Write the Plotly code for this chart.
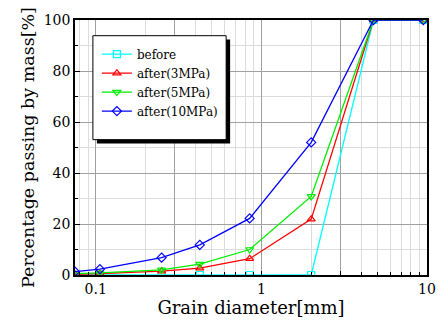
import plotly.graph_objects as go

diam = [0.075, 0.106, 0.25, 0.425, 0.85, 2.0, 4.75, 9.5]
before = [0, 0, 0, 0, 0, 0, 100, 100]
after3 = [0.3, 0.5, 1.5, 2.7, 6.4, 21.9, 100, 100]
after5 = [0.5, 0.8, 2.0, 4.3, 10.0, 30.8, 100, 100]
after10 = [1.3, 2.3, 6.8, 11.8, 22.2, 52.0, 100, 100]

series = [
    ("before", before, "#00ffff", "square-open"),
    ("after(3MPa)", after3, "#ff0000", "triangle-up-open"),
    ("after(5MPa)", after5, "#00ee00", "triangle-down-open"),
    ("after(10MPa)", after10, "#0000ff", "diamond-open"),
]

fig = go.Figure()
for name, vals, col, sym in series:
    fig.add_trace(go.Scatter(
        x=diam, y=vals, name=name, mode="lines+markers",
        line=dict(color=col, width=1.3),
        marker=dict(symbol=sym, size=7, color=col, line=dict(width=1.2, color=col)),
    ))

L, R, T, B = 75, 19, 16, 51
W, H = 448, 327
pw, ph = W - L - R, H - T - B

def px_x(x):
    return (x - L) / pw

def px_y(y):
    return (H - B - y) / ph

# legend shadow and box
fig.add_shape(type="rect", xref="paper", yref="paper",
              x0=px_x(97), x1=px_x(231), y0=px_y(142), y1=px_y(36),
              fillcolor="black", line=dict(width=0), layer="above")
fig.add_shape(type="rect", xref="paper", yref="paper",
              x0=px_x(93), x1=px_x(227), y0=px_y(138), y1=px_y(32),
              fillcolor="white", line=dict(width=1, color="black"), layer="above")

font = "DejaVu Serif"
fig.update_layout(
    width=W, height=H,
    margin=dict(l=L, r=R, t=T, b=B),
    paper_bgcolor="white", plot_bgcolor="white",
    font=dict(family=font, size=14, color="black"),
    showlegend=True,
    legend=dict(x=px_x(97), y=px_y(36), xanchor="left", yanchor="top",
                bgcolor="rgba(0,0,0,0)", borderwidth=0,
                font=dict(family=font, size=12), tracegroupgap=0,
                itemwidth=30),
    xaxis=dict(
        type="log", range=[-1.125, 1],
        tickvals=[0.1, 0.3, 1, 3, 10], ticktext=["0.1", "", "1", "", "10"],
        ticks="inside", ticklen=4, tickcolor="black",
        showgrid=True, gridcolor="#a0a0a0", gridwidth=1,
        minor=dict(dtick="D1", showgrid=True, gridcolor="#dcdcdc", gridwidth=1,
                   ticks="inside", ticklen=3, tickcolor="black"),
        showline=True, linecolor="black", linewidth=1.5, mirror=True,
        title=dict(text="Grain diameter[mm]", font=dict(size=18), standoff=6),
        tickfont=dict(size=14),
    ),
    yaxis=dict(
        range=[0, 100], tickvals=[0, 20, 40, 60, 80, 100],
        ticks="inside", ticklen=5, tickcolor="black",
        showgrid=True, gridcolor="#a0a0a0", gridwidth=1,
        minor=dict(dtick=10, showgrid=True, gridcolor="#dcdcdc", gridwidth=1,
                   ticks="inside", ticklen=3, tickcolor="black"),
        showline=True, linecolor="black", linewidth=1.5, mirror=True,
        title=dict(text="Percentage passing by mass[%]", font=dict(size=17.5), standoff=5),
        tickfont=dict(size=14), zeroline=False,
    ),
)

fig.write_html("out.html")
